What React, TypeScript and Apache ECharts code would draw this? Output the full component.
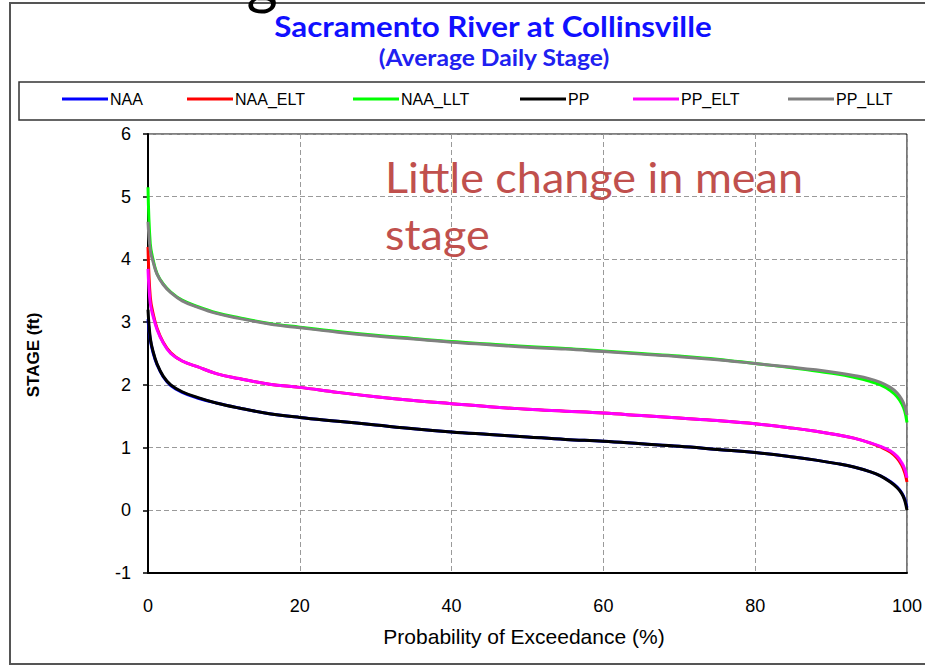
import React, { useEffect, useRef } from "react";
import * as echarts from "echarts";

const xs = [0, 0.3, 0.7, 1.2, 2, 3, 4.5, 6.5, 9, 12, 16, 20, 25, 30, 35, 40, 45, 50, 55, 60, 65, 70, 75, 80, 85, 88, 91, 93, 95, 96.5, 97.8, 98.7, 99.3, 99.7, 100];

const NAA = [3.05, 2.72, 2.5, 2.32, 2.13, 1.99, 1.88, 1.79, 1.71, 1.63, 1.54, 1.48, 1.42, 1.36, 1.30, 1.25, 1.21, 1.17, 1.13, 1.10, 1.06, 1.02, 0.97, 0.92, 0.85, 0.80, 0.74, 0.69, 0.62, 0.55, 0.46, 0.37, 0.28, 0.18, 0.04];
const NAA_ELT = [4.2, 3.4, 3.12, 2.9, 2.68, 2.51, 2.38, 2.29, 2.18, 2.10, 2.01, 1.96, 1.88, 1.81, 1.75, 1.70, 1.65, 1.61, 1.58, 1.55, 1.51, 1.47, 1.43, 1.38, 1.31, 1.26, 1.20, 1.15, 1.08, 1.01, 0.93, 0.83, 0.72, 0.6, 0.45];
const NAA_LLT = [5.15, 4.25, 3.98, 3.77, 3.61, 3.48, 3.35, 3.25, 3.15, 3.07, 2.98, 2.92, 2.85, 2.79, 2.74, 2.69, 2.65, 2.61, 2.58, 2.54, 2.50, 2.46, 2.41, 2.34, 2.27, 2.22, 2.17, 2.12, 2.06, 2.00, 1.91, 1.81, 1.70, 1.58, 1.40];
const PP = [3.2, 2.75, 2.52, 2.33, 2.14, 2.0, 1.89, 1.80, 1.71, 1.63, 1.54, 1.48, 1.42, 1.36, 1.30, 1.25, 1.21, 1.17, 1.13, 1.10, 1.06, 1.02, 0.97, 0.92, 0.85, 0.80, 0.74, 0.69, 0.62, 0.55, 0.45, 0.36, 0.27, 0.16, 0.0];
const PP_ELT = [3.85, 3.3, 3.08, 2.88, 2.67, 2.5, 2.38, 2.29, 2.18, 2.10, 2.01, 1.96, 1.88, 1.81, 1.75, 1.70, 1.65, 1.61, 1.58, 1.55, 1.51, 1.47, 1.43, 1.38, 1.31, 1.26, 1.20, 1.15, 1.08, 1.02, 0.95, 0.86, 0.76, 0.66, 0.52];
const PP_LLT = [4.6, 4.15, 3.95, 3.76, 3.6, 3.47, 3.34, 3.24, 3.14, 3.06, 2.97, 2.91, 2.84, 2.78, 2.73, 2.68, 2.64, 2.60, 2.57, 2.53, 2.49, 2.45, 2.40, 2.34, 2.28, 2.24, 2.19, 2.15, 2.10, 2.04, 1.96, 1.87, 1.77, 1.66, 1.52];

const seriesNames = ["NAA", "NAA_ELT", "NAA_LLT", "PP", "PP_ELT", "PP_LLT"];
const seriesValues = [NAA, NAA_ELT, NAA_LLT, PP, PP_ELT, PP_LLT];
const seriesColors = ["#0000ff", "#ff0000", "#00ff00", "#000000", "#ff00ff", "#808080"];
const legendLefts = [62, 187, 353, 520, 633, 788];

const titleText = "Sacramento River at Collinsville";
const subtitleText = "(Average Daily Stage)";
const noteLines = ["Little change in mean", "stage"];
const yTitle = "STAGE (ft)";
const xTitle = "Probability of Exceedance (%)";

const ARIAL = "'Liberation Sans', Arial, sans-serif";
const CAL = "Lato, 'Open Sans', sans-serif";

export default function App() {
  const ref = useRef<HTMLDivElement>(null);
  useEffect(() => {
    document.body.style.margin = "0";
    if (!ref.current) return;
    const chart = echarts.init(ref.current, undefined, { renderer: "svg" });
    const option: any = {
      animation: false,
      backgroundColor: "#ffffff",
      grid: {
        left: 148,
        right: 15,
        top: 134,
        bottom: 94,
        show: true,
        borderColor: "#000",
        borderWidth: 1,
        containLabel: false,
      },
      legend: seriesNames.map((n, i) => ({
        data: [n],
        left: legendLefts[i],
        top: 91,
        icon: "rect",
        itemWidth: 46,
        itemHeight: 3,
        itemGap: 0,
        padding: 0,
        textStyle: { fontFamily: ARIAL, fontSize: 16, color: "#000", padding: [0, 0, 0, -3] },
      })),
      xAxis: {
        type: "value",
        min: 0,
        max: 100,
        interval: 20,
        axisLine: { show: true, onZero: false, lineStyle: { color: "#000", width: 2 } },
        axisTick: { show: false },
        axisLabel: { fontFamily: ARIAL, fontSize: 18, color: "#000", margin: 24 },
        splitLine: { show: true, lineStyle: { color: "#9a9a9a", type: [5, 3], width: 1 } },
      },
      yAxis: {
        type: "value",
        min: -1,
        max: 6,
        interval: 1,
        axisLine: { show: true, onZero: false, lineStyle: { color: "#000", width: 2 } },
        axisTick: { show: true, inside: false, length: 5, lineStyle: { color: "#000", width: 1.5 } },
        axisLabel: { fontFamily: ARIAL, fontSize: 18, color: "#000", margin: 17 },
        splitLine: { show: true, lineStyle: { color: "#9a9a9a", type: [5, 3], width: 1 } },
      },
      series: seriesNames.map((n, i) => ({
        name: n,
        type: "line",
        data: xs.map((x, j) => [x, seriesValues[i][j]]),
        smooth: 0.4,
        showSymbol: false,
        symbol: "none",
        lineStyle: { color: seriesColors[i], width: 3 },
        itemStyle: { color: seriesColors[i] },
      })),
      graphic: [
        {
          type: "rect",
          shape: { x: 10, y: 3, width: 940, height: 661 },
          style: { fill: "none", stroke: "#555", lineWidth: 2 },
          z: 10,
        },
        {
          type: "rect",
          shape: { x: 19, y: 82, width: 930, height: 38 },
          style: { fill: "none", stroke: "#333", lineWidth: 1.5 },
          z: 10,
        },
        {
          type: "text",
          x: 262,
          y: -50,
          style: { text: "g", font: `60px ${CAL}`, fill: "#000", align: "center", verticalAlign: "top" },
          z: 10,
        },
        {
          type: "text",
          x: 493,
          y: 12,
          scaleX: 1.12,
          style: { text: titleText, font: `bold 28px ${CAL}`, fill: "#1010ff", align: "center", verticalAlign: "top" },
          z: 11,
        },
        {
          type: "text",
          x: 494,
          y: 47,
          scaleX: 1.12,
          style: { text: subtitleText, font: `bold 22px ${CAL}`, fill: "#2020f0", align: "center", verticalAlign: "top" },
          z: 10,
        },
        {
          type: "text",
          x: 385,
          y: 156,
          scaleX: 1.07,
          style: { text: noteLines[0], font: `42px ${CAL}`, fill: "#c0504d", align: "left", verticalAlign: "top" },
          z: 10,
        },
        {
          type: "text",
          x: 385,
          y: 213,
          scaleX: 1.07,
          style: { text: noteLines[1], font: `42px ${CAL}`, fill: "#c0504d", align: "left", verticalAlign: "top" },
          z: 10,
        },
        {
          type: "text",
          x: 33,
          y: 355,
          rotation: Math.PI / 2,
          style: { text: yTitle, font: `bold 17px ${ARIAL}`, fill: "#000", align: "center", verticalAlign: "middle" },
          z: 10,
        },
        {
          type: "text",
          x: 524,
          y: 636,
          style: { text: xTitle, font: `21px ${ARIAL}`, fill: "#000", align: "center", verticalAlign: "middle" },
          z: 10,
        },
      ],
    };
    chart.setOption(option);
    return () => chart.dispose();
  }, []);
  return <div ref={ref} style={{ width: 925, height: 667 }} />;
}
